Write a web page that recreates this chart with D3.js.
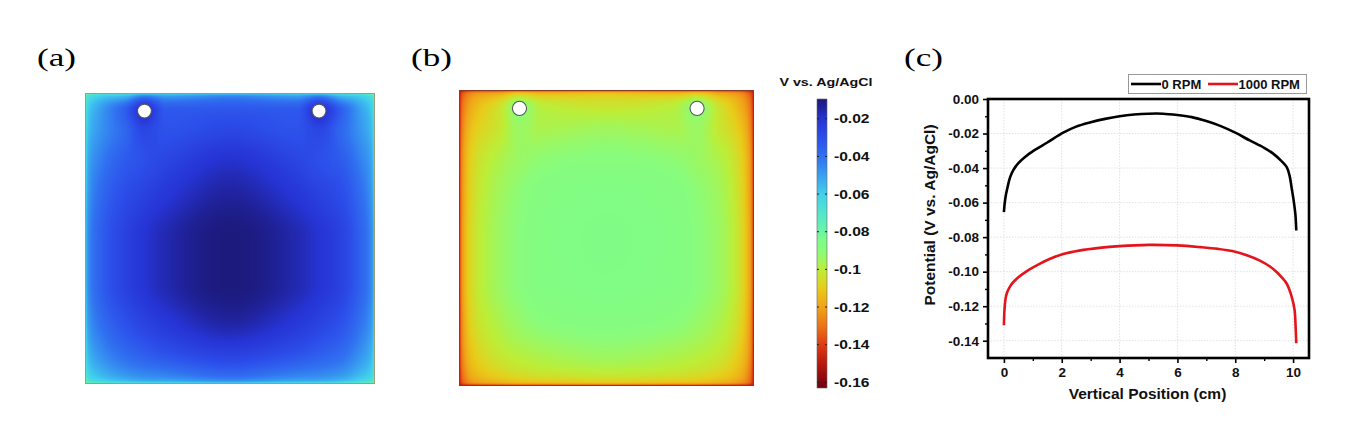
<!DOCTYPE html>
<html><head><meta charset="utf-8">
<script src="https://cdn.jsdelivr.net/npm/d3@7"></script>
<style>body{margin:0;background:#fff}svg{display:block}</style>
</head><body>
<svg id="fig" width="1358" height="435"></svg>
<script>
// ---------------- DATA ----------------
const panelLabels = ["(a)", "(b)", "(c)"];
// field sample grid (cm, 10 x 10 cm cell)
const gridU = [0, 0.12, 0.5, 1.4, 2.05, 2.8, 5, 7.3, 8.07, 8.8, 9.5, 9.88, 10];
const gridV = [0, 0.12, 0.62, 1.3, 2.2, 3.5, 5, 6.5, 7.8, 8.8, 9.5, 9.88, 10];
// panel (a): 0 RPM potential field (V vs Ag/AgCl), rows = gridV, cols = gridU
const fieldA = [
  [-0.085,-0.078,-0.073,-0.069,-0.067,-0.065,-0.062,-0.065,-0.067,-0.069,-0.073,-0.078,-0.085],
  [-0.077,-0.067,-0.060,-0.054,-0.042,-0.049,-0.044,-0.049,-0.042,-0.054,-0.060,-0.067,-0.077],
  [-0.072,-0.059,-0.050,-0.034,-0.018,-0.033,-0.032,-0.033,-0.018,-0.034,-0.050,-0.059,-0.072],
  [-0.069,-0.056,-0.048,-0.037,-0.027,-0.031,-0.027,-0.031,-0.027,-0.037,-0.048,-0.056,-0.069],
  [-0.067,-0.052,-0.044,-0.034,-0.030,-0.027,-0.020,-0.027,-0.030,-0.034,-0.044,-0.052,-0.067],
  [-0.064,-0.049,-0.039,-0.029,-0.025,-0.021,-0.014,-0.021,-0.025,-0.029,-0.039,-0.049,-0.064],
  [-0.062,-0.046,-0.036,-0.025,-0.020,-0.016,-0.0095,-0.016,-0.020,-0.025,-0.036,-0.046,-0.062],
  [-0.062,-0.046,-0.036,-0.025,-0.020,-0.016,-0.0095,-0.016,-0.020,-0.025,-0.036,-0.046,-0.062],
  [-0.064,-0.049,-0.040,-0.030,-0.025,-0.021,-0.014,-0.021,-0.025,-0.030,-0.040,-0.049,-0.064],
  [-0.068,-0.054,-0.046,-0.037,-0.033,-0.029,-0.023,-0.029,-0.033,-0.037,-0.046,-0.054,-0.068],
  [-0.072,-0.060,-0.053,-0.045,-0.042,-0.040,-0.034,-0.040,-0.042,-0.045,-0.053,-0.060,-0.072],
  [-0.078,-0.068,-0.062,-0.055,-0.052,-0.051,-0.046,-0.051,-0.052,-0.055,-0.062,-0.068,-0.078],
  [-0.088,-0.082,-0.078,-0.074,-0.072,-0.071,-0.068,-0.071,-0.072,-0.074,-0.078,-0.082,-0.088]
];
// panel (b): 1000 RPM potential field
const fieldB = [
  [-0.156,-0.150,-0.146,-0.144,-0.143,-0.143,-0.142,-0.143,-0.143,-0.144,-0.146,-0.150,-0.156],
  [-0.150,-0.136,-0.124,-0.118,-0.110,-0.114,-0.112,-0.114,-0.110,-0.118,-0.124,-0.136,-0.150],
  [-0.148,-0.130,-0.116,-0.103,-0.090,-0.099,-0.102,-0.099,-0.090,-0.103,-0.116,-0.130,-0.148],
  [-0.147,-0.127,-0.111,-0.102,-0.094,-0.097,-0.095,-0.097,-0.094,-0.102,-0.111,-0.127,-0.147],
  [-0.146,-0.124,-0.107,-0.098,-0.094,-0.092,-0.090,-0.092,-0.094,-0.098,-0.107,-0.124,-0.146],
  [-0.145,-0.123,-0.105,-0.095,-0.091,-0.088,-0.086,-0.088,-0.091,-0.095,-0.105,-0.123,-0.145],
  [-0.145,-0.122,-0.104,-0.094,-0.090,-0.087,-0.085,-0.087,-0.090,-0.094,-0.104,-0.122,-0.145],
  [-0.145,-0.122,-0.104,-0.094,-0.090,-0.087,-0.0855,-0.087,-0.090,-0.094,-0.104,-0.122,-0.145],
  [-0.146,-0.124,-0.106,-0.097,-0.093,-0.090,-0.088,-0.090,-0.093,-0.097,-0.106,-0.124,-0.146],
  [-0.147,-0.126,-0.110,-0.101,-0.098,-0.096,-0.093,-0.096,-0.098,-0.101,-0.110,-0.126,-0.147],
  [-0.148,-0.130,-0.115,-0.107,-0.104,-0.102,-0.100,-0.102,-0.104,-0.107,-0.115,-0.130,-0.148],
  [-0.150,-0.135,-0.123,-0.117,-0.114,-0.113,-0.111,-0.113,-0.114,-0.117,-0.123,-0.135,-0.150],
  [-0.156,-0.152,-0.149,-0.147,-0.146,-0.146,-0.145,-0.146,-0.146,-0.147,-0.149,-0.152,-0.156]
];
const holeU = [2.05, 8.07];
const holeV = [0.62, 0.62];
const holeRadius = 0.24;
// colour bar
const cbarTitle = "V vs. Ag/AgCl";
const cbarDomain = [-0.163, -0.0095];
const cbarTicks = [-0.02, -0.04, -0.06, -0.08, -0.1, -0.12, -0.14, -0.16];
const cbarTickLabels = ["-0.02", "-0.04", "-0.06", "-0.08", "-0.1", "-0.12", "-0.14", "-0.16"];
const colorStopValues = [-0.163, -0.150, -0.140, -0.130, -0.120, -0.110, -0.100, -0.095, -0.090, -0.085, -0.080, -0.070, -0.060, -0.050, -0.040, -0.030, -0.020, -0.013, -0.0095];
const colorStopColors = ["#700010", "#b8180e", "#de3c12", "#ec7418", "#f0a418", "#e8cc1a", "#bcee38", "#a0f65c", "#88fc7c", "#80fc86", "#6cf4a4", "#52e6cc", "#40d0ec", "#38a0f0", "#3070f0", "#2c4eea", "#2634d4", "#1f2094", "#1c1a7c"];
// panel (c) line profiles
const series = ["0 RPM", "1000 RPM"];
const seriesColors = ["#000000", "#e4141c"];
const position0 = [0, 0.03, 0.07, 0.13, 0.21, 0.32, 0.5, 0.73, 1.07, 1.5, 2.05, 2.5, 3.0, 3.5, 4.0, 4.5, 5.0, 5.5, 6.0, 6.5, 7.0, 7.5, 8.0, 8.5, 9.0, 9.3, 9.6, 9.78, 9.88, 9.95, 10.03, 10.08, 10.11];
const potential0 = [-0.0655, -0.060, -0.0555, -0.0508, -0.0455, -0.0413, -0.0372, -0.0336, -0.0295, -0.0252, -0.0195, -0.016, -0.0135, -0.0115, -0.0100, -0.0090, -0.0085, -0.0085, -0.0093, -0.0105, -0.0128, -0.0157, -0.0195, -0.024, -0.0283, -0.0315, -0.036, -0.0395, -0.0445, -0.0515, -0.060, -0.067, -0.0762];
const position1000 = [0, 0.02, 0.05, 0.1, 0.18, 0.3, 0.5, 0.78, 1.25, 1.6, 2.05, 2.6, 3.3, 4.0, 5.0, 6.0, 6.8, 7.4, 7.93, 8.4, 8.85, 9.2, 9.43, 9.6, 9.78, 9.95, 10.05, 10.09, 10.11];
const potential1000 = [-0.131, -0.122, -0.1165, -0.1125, -0.1095, -0.1065, -0.1033, -0.0998, -0.0953, -0.0925, -0.0898, -0.0878, -0.0862, -0.0852, -0.0845, -0.0848, -0.0858, -0.0868, -0.0882, -0.0905, -0.0936, -0.097, -0.1002, -0.1032, -0.107, -0.1144, -0.122, -0.133, -0.1415];
const xTicks = [0, 2, 4, 6, 8, 10];
const xMinorTicks = [1, 3, 5, 7, 9];
const yTicks = [0, -0.02, -0.04, -0.06, -0.08, -0.10, -0.12, -0.14];
const yMinorTicks = [-0.01, -0.03, -0.05, -0.07, -0.09, -0.11, -0.13];
const xDomain = [-0.55, 10.55];
const yDomain = [-0.15, 0];
const xTitle = "Vertical Position (cm)";
const yTitle = "Potential (V vs. Ag/AgCl)";

// ---------------- DRAW ----------------
const svg = d3.select("#fig");
const fieldColor = d3.scaleLinear().domain(colorStopValues).range(colorStopColors)
  .interpolate(d3.interpolateRgb).clamp(true);

// smooth (monotone cubic) resampling of the measured grid for display
function monotone(xs, ys) {
  const n = xs.length, dx = [], m = [], t = new Array(n);
  for (let i = 0; i < n - 1; i++) { dx[i] = xs[i + 1] - xs[i]; m[i] = (ys[i + 1] - ys[i]) / dx[i]; }
  t[0] = m[0]; t[n - 1] = m[n - 2];
  for (let i = 1; i < n - 1; i++) {
    if (m[i - 1] * m[i] <= 0) t[i] = 0;
    else t[i] = 3 * (dx[i - 1] + dx[i]) / ((2 * dx[i] + dx[i - 1]) / m[i - 1] + (dx[i] + 2 * dx[i - 1]) / m[i]);
  }
  return xv => {
    let i = Math.max(0, Math.min(n - 2, d3.bisectRight(xs, xv) - 1));
    const h = dx[i], s = Math.max(0, Math.min(1, (xv - xs[i]) / h));
    const s2 = s * s, s3 = s2 * s;
    return (2 * s3 - 3 * s2 + 1) * ys[i] + (s3 - 2 * s2 + s) * h * t[i] +
           (-2 * s3 + 3 * s2) * ys[i + 1] + (s3 - s2) * h * t[i + 1];
  };
}

const panels = [
  {x: 85, y: 93, w: 290, h: 291, field: fieldA, edge: "#94a07a"},
  {x: 459, y: 90, w: 295, h: 296, field: fieldB, edge: "#8c3a22"}
];

const lo = colorStopValues[0], hi = colorStopValues[colorStopValues.length - 1];
const N = 1024;
const lut = d3.range(N).map(i => d3.rgb(fieldColor(lo + (hi - lo) * i / (N - 1))));

panels.forEach(p => {
  const uScale = d3.scaleLinear().domain([0, 10]).range([0, p.w]);
  const vScale = d3.scaleLinear().domain([0, 10]).range([0, p.h]);
  const canvas = document.createElement("canvas");
  canvas.width = p.w; canvas.height = p.h;
  const ctx = canvas.getContext("2d");
  const img = ctx.createImageData(p.w, p.h);
  const F = p.field;
  const rowFns = F.map(row => monotone(gridU, row));
  const rowsAtPx = rowFns.map(fn => d3.range(p.w).map(px => fn(uScale.invert(px + 0.5))));
  for (let px = 0; px < p.w; px++) {
    const colFn = monotone(gridV, rowsAtPx.map(r => r[px]));
    for (let py = 0; py < p.h; py++) {
      const val = colFn(vScale.invert(py + 0.5));
      let k = Math.round((val - lo) / (hi - lo) * (N - 1));
      k = Math.max(0, Math.min(N - 1, k));
      const c = lut[k], o = (py * p.w + px) * 4;
      img.data[o] = c.r; img.data[o + 1] = c.g; img.data[o + 2] = c.b; img.data[o + 3] = 255;
    }
  }
  ctx.putImageData(img, 0, 0);
  svg.append("image").attr("x", p.x).attr("y", p.y).attr("width", p.w).attr("height", p.h)
    .attr("preserveAspectRatio", "none").attr("href", canvas.toDataURL());
  svg.append("rect").attr("x", p.x + 0.5).attr("y", p.y + 0.5).attr("width", p.w - 1).attr("height", p.h - 1)
    .attr("fill", "none").attr("stroke", p.edge).attr("stroke-width", 1);
  const X = d3.scaleLinear().domain([0, 10]).range([p.x, p.x + p.w]);
  const Y = d3.scaleLinear().domain([0, 10]).range([p.y, p.y + p.h]);
  svg.append("g").selectAll("circle").data(holeU).join("circle")
    .attr("cx", d => X(d)).attr("cy", (d, i) => Y(holeV[i]))
    .attr("r", X(holeRadius) - X(0))
    .attr("fill", "#fff").attr("stroke", "#555").attr("stroke-width", 1.1);
});

// panel labels (stretched like the source figure)
const labelX = [37, 411, 904];
svg.append("g").selectAll("text").data(panelLabels).join("text")
  .attr("transform", (d, i) => `translate(${labelX[i]},66) scale(1.35,1)`)
  .attr("font-family", "Liberation Serif, Times New Roman, serif")
  .attr("font-size", 26).attr("fill", "#000").text(d => d);

// colour bar
const cb = {x: 817, y: 99, w: 10, h: 289};
const cbScale = d3.scaleLinear().domain(cbarDomain).range([cb.y + cb.h, cb.y]);
const defs = svg.append("defs");
const grad = defs.append("linearGradient").attr("id", "cbgrad")
  .attr("x1", 0).attr("y1", 1).attr("x2", 0).attr("y2", 0);
grad.selectAll("stop").data(colorStopValues).join("stop")
  .attr("offset", d => (d - cbarDomain[0]) / (cbarDomain[1] - cbarDomain[0]))
  .attr("stop-color", (d, i) => colorStopColors[i]);
svg.append("rect").attr("x", cb.x).attr("y", cb.y).attr("width", cb.w).attr("height", cb.h)
  .attr("fill", "url(#cbgrad)").attr("stroke", "#666").attr("stroke-width", 0.6);
const cbT = svg.append("g");
cbT.selectAll("line.l").data(cbarTicks).join("line").attr("class", "l")
  .attr("x1", cb.x).attr("x2", cb.x + 2).attr("y1", d => cbScale(d)).attr("y2", d => cbScale(d))
  .attr("stroke", "#222").attr("stroke-width", 1);
cbT.selectAll("line.r").data(cbarTicks).join("line").attr("class", "r")
  .attr("x1", cb.x + cb.w - 2).attr("x2", cb.x + cb.w).attr("y1", d => cbScale(d)).attr("y2", d => cbScale(d))
  .attr("stroke", "#222").attr("stroke-width", 1);
cbT.selectAll("text").data(cbarTicks).join("text")
  .attr("transform", d => `translate(834,${cbScale(d) + 4.5}) scale(1.3,1)`)
  .attr("font-family", "Liberation Sans, Arial, sans-serif").attr("font-weight", "bold")
  .attr("font-size", 12).attr("fill", "#111").text((d, i) => cbarTickLabels[i]);
svg.append("text").attr("transform", "translate(826,86) scale(1.3,1)")
  .attr("text-anchor", "middle")
  .attr("font-family", "Liberation Sans, Arial, sans-serif").attr("font-weight", "bold")
  .attr("font-size", 11).attr("fill", "#111").text(cbarTitle);

// ---------- panel (c) ----------
const plot = {l: 988, r: 1309, t: 99, b: 358};
const x = d3.scaleLinear().domain(xDomain).range([plot.l, plot.r]);
const y = d3.scaleLinear().domain(yDomain).range([plot.b, plot.t]);
const gc = svg.append("g");
// grid
gc.append("g").selectAll("line").data(xTicks).join("line")
  .attr("x1", d => x(d)).attr("x2", d => x(d)).attr("y1", plot.t).attr("y2", plot.b)
  .attr("stroke", "#d9d9d9").attr("stroke-width", 0.8).attr("stroke-dasharray", "1.5,1.5");
gc.append("g").selectAll("line").data(yTicks.slice(1)).join("line")
  .attr("x1", plot.l).attr("x2", plot.r).attr("y1", d => y(d)).attr("y2", d => y(d))
  .attr("stroke", "#d9d9d9").attr("stroke-width", 0.8).attr("stroke-dasharray", "1.5,1.5");

const fmtY = d => (d === 0 ? "0.00" : "-" + Math.abs(d).toFixed(2));
const axisFont = g => g.selectAll("text").attr("font-family", "Liberation Sans, Arial, sans-serif")
  .attr("font-weight", "bold").attr("fill", "#111");
const xAx = gc.append("g").attr("transform", `translate(0,${plot.b})`)
  .call(d3.axisBottom(x).tickValues(xTicks).tickSize(5).tickPadding(4).tickFormat(d3.format("d")));
xAx.select(".domain").remove();
xAx.selectAll("line").attr("stroke-width", 1.6);
xAx.call(axisFont).selectAll("text").attr("font-size", 13.5);
const xAxm = gc.append("g").attr("transform", `translate(0,${plot.b})`)
  .call(d3.axisBottom(x).tickValues(xMinorTicks).tickSize(3).tickFormat(""));
xAxm.select(".domain").remove();
xAxm.selectAll("line").attr("stroke-width", 1.4);

const yAx = gc.append("g").attr("transform", `translate(${plot.l},0)`)
  .call(d3.axisLeft(y).tickValues(yTicks).tickSize(5).tickPadding(4).tickFormat(fmtY));
yAx.select(".domain").remove();
yAx.selectAll("line").attr("stroke-width", 1.6);
yAx.call(axisFont).selectAll("text").attr("font-size", 13.5);
const yAxm = gc.append("g").attr("transform", `translate(${plot.l},0)`)
  .call(d3.axisLeft(y).tickValues(yMinorTicks).tickSize(3).tickFormat(""));
yAxm.select(".domain").remove();
yAxm.selectAll("line").attr("stroke-width", 1.4);

// lines
const lineGen = d3.line().x(d => x(d[0])).y(d => y(d[1])).curve(d3.curveCatmullRom.alpha(0.5));
const data0 = position0.map((p, i) => [p, potential0[i]]);
const data1 = position1000.map((p, i) => [p, potential1000[i]]);
gc.append("path").datum(data0).attr("d", lineGen).attr("fill", "none")
  .attr("stroke", seriesColors[0]).attr("stroke-width", 2.6).attr("stroke-linejoin", "round");
gc.append("path").datum(data1).attr("d", lineGen).attr("fill", "none")
  .attr("stroke", seriesColors[1]).attr("stroke-width", 2.6).attr("stroke-linejoin", "round");

// frame
gc.append("rect").attr("x", plot.l).attr("y", plot.t).attr("width", plot.r - plot.l).attr("height", plot.b - plot.t)
  .attr("fill", "none").attr("stroke", "#000").attr("stroke-width", 2.6);

// titles
gc.append("text").attr("x", (plot.l + plot.r) / 2 - 1).attr("y", 399).attr("text-anchor", "middle")
  .attr("font-family", "Liberation Sans, Arial, sans-serif").attr("font-weight", "bold")
  .attr("font-size", 15.5).attr("fill", "#111").text(xTitle);
gc.append("text").attr("transform", "translate(935,215) rotate(-90)").attr("text-anchor", "middle")
  .attr("font-family", "Liberation Sans, Arial, sans-serif").attr("font-weight", "bold")
  .attr("font-size", 15.5).attr("fill", "#111").text(yTitle);

// legend
const lg = gc.append("g");
lg.append("rect").attr("x", 1128.5).attr("y", 74.5).attr("width", 178).attr("height", 19)
  .attr("fill", "#fff").attr("stroke", "#9a9a9a").attr("stroke-width", 1);
const legX = [1131, 1208];
series.forEach((s, i) => {
  lg.append("line").attr("x1", legX[i]).attr("x2", legX[i] + 30).attr("y1", 84).attr("y2", 84)
    .attr("stroke", seriesColors[i]).attr("stroke-width", 2.6);
  lg.append("text").attr("x", legX[i] + 30.5).attr("y", 88.5)
    .attr("font-family", "Liberation Sans, Arial, sans-serif").attr("font-weight", "bold")
    .attr("font-size", 13).attr("fill", "#111").text(s);
});
</script>
</body></html>
